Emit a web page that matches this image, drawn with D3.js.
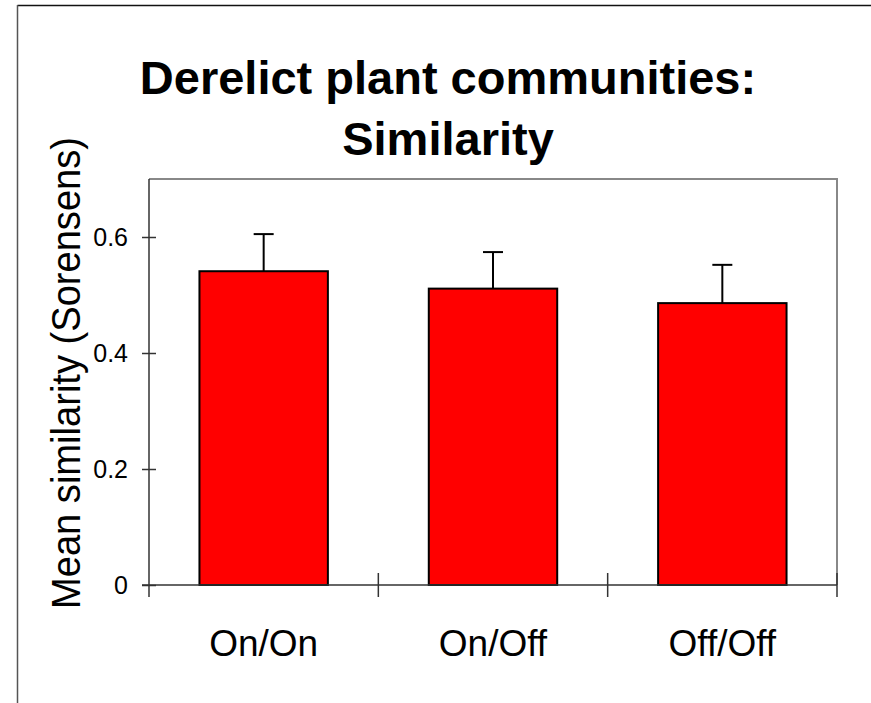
<!DOCTYPE html>
<html>
<head>
<meta charset="utf-8">
<script src="https://cdn.jsdelivr.net/npm/d3@7"></script>
<style>
  body { margin: 0; background: #fff; }
  text { font-family: Arial, "Liberation Sans", sans-serif; fill: #000; }
</style>
</head>
<body>
<svg id="chart" width="871" height="703"></svg>
<script>
const categories = ["On/On", "On/Off", "Off/Off"];
const means = [0.541, 0.511, 0.486];
const errors = [0.064, 0.063, 0.066];
const yTicks = [0, 0.2, 0.4, 0.6];
const titleLines = ["Derelict plant communities:", "Similarity"];
const yTitle = "Mean similarity (Sorensens)";

const data = categories.map((c, i) => ({ cat: c, mean: means[i], err: errors[i] }));

const svg = d3.select("#chart");
const plotLeft = 149, plotRight = 837, plotTop = 179, plotBottom = 585;

// outer frame
svg.append("line").attr("x1", 17.5).attr("x2", 871).attr("y1", 5.5).attr("y2", 5.5)
  .attr("stroke", "#111").attr("stroke-width", 1.5);
svg.append("line").attr("x1", 17.5).attr("x2", 17.5).attr("y1", 5).attr("y2", 703)
  .attr("stroke", "#555").attr("stroke-width", 1.5);

// title
svg.append("g").selectAll("text")
  .data(titleLines)
  .enter()
  .append("text")
  .attr("x", 448)
  .attr("y", (d, i) => 94 + i * 61)
  .attr("text-anchor", "middle")
  .style("font-size", "47px")
  .style("font-weight", "bold")
  .text(d => d);

let x = d3.scaleBand()
  .domain(categories)
  .range([plotLeft, plotRight])
  .paddingInner(0.44)
  .paddingOuter(0.22);

let y = d3.scaleLinear().domain([0, 0.7]).range([plotBottom, plotTop]);

// plot box (top and right in gray)
svg.append("path")
  .attr("d", `M${plotLeft},${plotTop}H${plotRight}V${plotBottom}`)
  .attr("fill", "none")
  .attr("stroke", "#888")
  .attr("stroke-width", 2);

// bars
svg.append("g").selectAll("rect")
  .data(data)
  .enter()
  .append("rect")
  .attr("x", d => x(d.cat))
  .attr("y", d => y(d.mean))
  .attr("width", x.bandwidth())
  .attr("height", d => y(0) - y(d.mean))
  .attr("fill", "#ff0000")
  .attr("stroke", "#000")
  .attr("stroke-width", 2);

// error bars
let eb = svg.append("g").attr("stroke", "#000").attr("stroke-width", 2);
eb.selectAll(".stem")
  .data(data)
  .enter()
  .append("line")
  .attr("x1", d => x(d.cat) + x.bandwidth() / 2)
  .attr("x2", d => x(d.cat) + x.bandwidth() / 2)
  .attr("y1", d => y(d.mean))
  .attr("y2", d => y(d.mean + d.err));
eb.selectAll(".cap")
  .data(data)
  .enter()
  .append("line")
  .attr("x1", d => x(d.cat) + x.bandwidth() / 2 - 10)
  .attr("x2", d => x(d.cat) + x.bandwidth() / 2 + 10)
  .attr("y1", d => y(d.mean + d.err))
  .attr("y2", d => y(d.mean + d.err));

// y axis
let yAxis = svg.append("g")
  .attr("transform", `translate(${plotLeft},0)`)
  .call(d3.axisLeft(y).tickValues(yTicks).tickSize(7).tickPadding(14)
    .tickFormat(d => d === 0 ? "0" : d.toFixed(1)));
yAxis.select(".domain").remove();
yAxis.selectAll(".tick line").attr("x1", 7).attr("stroke", "#333").attr("stroke-width", 1.5);
yAxis.selectAll(".tick text").style("font-size", "25px").attr("dy", "0.35em");
svg.append("line").attr("x1", plotLeft).attr("x2", plotLeft).attr("y1", plotTop).attr("y2", plotBottom + 12)
  .attr("stroke", "#333").attr("stroke-width", 1.5);

// x axis with ticks at category boundaries
let xb = d3.scaleLinear().domain([0, categories.length]).range([plotLeft, plotRight]);
svg.append("line").attr("x1", plotLeft - 7).attr("x2", plotRight).attr("y1", plotBottom).attr("y2", plotBottom)
  .attr("stroke", "#333").attr("stroke-width", 1.5);
svg.append("g").selectAll("line")
  .data(d3.range(1, categories.length + 1))
  .enter()
  .append("line")
  .attr("x1", d => xb(d))
  .attr("x2", d => xb(d))
  .attr("y1", plotBottom - 12)
  .attr("y2", plotBottom + 12)
  .attr("stroke", "#333")
  .attr("stroke-width", 1.5);

svg.append("g").selectAll("text")
  .data(categories)
  .enter()
  .append("text")
  .attr("x", d => x(d) + x.bandwidth() / 2)
  .attr("y", 656)
  .attr("text-anchor", "middle")
  .style("font-size", "37px")
  .text(d => d);

// y title
svg.append("text")
  .attr("transform", "translate(80,373) rotate(-90)")
  .attr("text-anchor", "middle")
  .attr("textLength", 472)
  .attr("lengthAdjust", "spacingAndGlyphs")
  .style("font-size", "40px")
  .text(yTitle);
</script>
</body>
</html>
